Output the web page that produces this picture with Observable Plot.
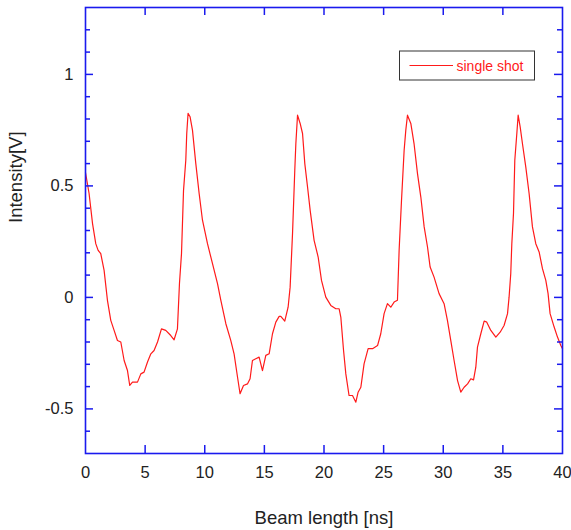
<!DOCTYPE html>
<html>
<head>
<meta charset="utf-8">
<script src="https://cdn.jsdelivr.net/npm/d3@7"></script>
<script src="https://cdn.jsdelivr.net/npm/@observablehq/plot@0.6"></script>
<style>
  html, body { margin: 0; padding: 0; background: white; }
  #chart svg { display: block; }
</style>
</head>
<body>
<div id="chart"></div>
<script>
// ---- data ----
const beamLength = [0,0.3,0.59,0.86,1.06,1.28,1.56,1.84,2.12,2.40,2.68,2.96,3.24,3.52,3.71,3.94,4.36,4.64,4.91,5.20,5.48,5.75,6.04,6.37,6.73,7.15,7.43,7.71,7.88,8.05,8.22,8.41,8.49,8.60,8.77,8.97,9.25,9.53,9.81,10.23,10.65,11.07,11.35,11.77,12.18,12.46,12.75,12.96,13.25,13.58,13.80,14.00,14.28,14.56,14.84,15.12,15.40,15.68,15.96,16.24,16.38,16.71,16.99,17.16,17.36,17.55,17.64,17.78,18.00,18.20,18.39,18.62,18.84,19.17,19.51,19.79,20.15,20.57,20.99,21.27,21.41,21.64,21.83,22.10,22.39,22.67,22.86,23.09,23.36,23.70,24.07,24.49,24.76,25.04,25.32,25.60,25.88,26.16,26.30,26.50,26.72,26.86,27.00,27.28,27.55,27.84,28.12,28.40,28.68,28.90,29.23,29.65,30.07,30.35,30.63,30.91,31.20,31.47,31.75,32.04,32.31,32.54,32.73,32.87,33.15,33.43,33.65,33.99,34.41,34.77,35.10,35.39,35.52,35.66,35.75,35.89,36.00,36.17,36.28,36.45,36.64,36.92,37.20,37.48,37.76,38.04,38.32,38.60,38.79,38.96,39.30,39.58,39.86,40.00];
const intensity = [0.56,0.466,0.331,0.241,0.211,0.196,0.121,-0.013,-0.103,-0.148,-0.193,-0.200,-0.283,-0.328,-0.395,-0.38,-0.38,-0.343,-0.335,-0.29,-0.253,-0.238,-0.20,-0.141,-0.148,-0.171,-0.19,-0.141,0.062,0.196,0.48,0.615,0.735,0.825,0.81,0.75,0.60,0.466,0.346,0.241,0.151,0.062,-0.013,-0.118,-0.193,-0.253,-0.358,-0.432,-0.395,-0.388,-0.365,-0.283,-0.275,-0.268,-0.328,-0.26,-0.253,-0.163,-0.111,-0.085,-0.085,-0.106,-0.044,0.046,0.286,0.57,0.69,0.817,0.78,0.735,0.60,0.495,0.39,0.256,0.181,0.076,0.001,-0.036,-0.051,-0.051,-0.088,-0.238,-0.343,-0.44,-0.44,-0.47,-0.425,-0.403,-0.298,-0.23,-0.23,-0.216,-0.163,-0.073,-0.028,-0.044,-0.021,-0.013,0.211,0.436,0.66,0.75,0.817,0.78,0.69,0.555,0.45,0.316,0.226,0.136,0.091,0.017,-0.028,-0.103,-0.193,-0.283,-0.373,-0.425,-0.403,-0.388,-0.365,-0.37,-0.313,-0.223,-0.163,-0.106,-0.111,-0.148,-0.178,-0.156,-0.126,-0.073,0.001,0.106,0.241,0.376,0.615,0.735,0.817,0.765,0.69,0.585,0.466,0.316,0.241,0.204,0.129,0.076,0.017,-0.073,-0.133,-0.178,-0.216,-0.23];
const xDomain = [0, 40];
const yDomain = [-0.7, 1.3];
const xTickValues = [0, 5, 10, 15, 20, 25, 30, 35, 40];
const xInnerTicks = [5, 10, 15, 20, 25, 30, 35];
const yTickValues = [-0.5, 0, 0.5, 1];
const yMinorTicks = [-0.6, -0.4, -0.3, -0.2, -0.1, 0.1, 0.2, 0.3, 0.4, 0.6, 0.7, 0.8, 0.9, 1.1, 1.2];
const xTitle = "Beam length [ns]";
const yTitle = "Intensity[V]";
const seriesName = "single shot";

// ---- layout ----
const W = 571, H = 530;
const mL = 85, mR = 9, mT = 7, mB = 77;
const fw = W - mL - mR, fh = H - mT - mB;
const AXIS = "#1a1aee";
const LINE = "#ff1a1a";
const majorLen = 8, minorLen = 5;

const data = beamLength.map((x, i) => ({x, y: intensity[i]}));

const plot = Plot.plot({
  width: W, height: H,
  marginLeft: mL, marginRight: mR, marginTop: mT, marginBottom: mB,
  style: {fontFamily: "'Liberation Sans', Arial, sans-serif", background: "white"},
  x: {domain: xDomain},
  y: {domain: yDomain},
  marks: [
    Plot.line(data, {x: "x", y: "y", stroke: LINE, strokeWidth: 1.2}),
    // inward ticks: bottom & top
    Plot.tickX(xInnerTicks, {x: d => d, insetTop: fh - majorLen, stroke: AXIS, strokeWidth: 1.5}),
    Plot.tickX(xInnerTicks, {x: d => d, insetBottom: fh - majorLen, stroke: AXIS, strokeWidth: 1.5}),
    // inward ticks: left & right, major and minor
    Plot.tickY(yTickValues, {y: d => d, insetRight: fw - majorLen, stroke: AXIS, strokeWidth: 1.5}),
    Plot.tickY(yTickValues, {y: d => d, insetLeft: fw - majorLen, stroke: AXIS, strokeWidth: 1.5}),
    Plot.tickY(yMinorTicks, {y: d => d, insetRight: fw - minorLen, stroke: AXIS, strokeWidth: 1.5}),
    Plot.tickY(yMinorTicks, {y: d => d, insetLeft: fw - minorLen, stroke: AXIS, strokeWidth: 1.5}),
    Plot.frame({stroke: AXIS, strokeWidth: 1.6}),
    Plot.axisX(xTickValues, {tickSize: 0, tickPadding: 13, fontSize: 16.5, fill: "#222", tickFormat: d => String(d), label: null}),
    Plot.axisY(yTickValues, {tickSize: 0, tickPadding: 12, fontSize: 16.5, fill: "#222", tickFormat: d => String(d), label: null}),
    Plot.text([xTitle], {text: d => d, frameAnchor: "bottom", dy: 70, fontSize: 18.5, fill: "#222"}),
    Plot.text([yTitle], {text: d => d, frameAnchor: "left", rotate: -90, dx: -69.5, dy: -7.5, fontSize: 18.5, fill: "#222"})
  ]
});

// legend (inside the frame, top-right)
const svg = d3.select(plot);
const lg = svg.append("g").attr("transform", `translate(${mL + fw - 162.5},${mT + 44})`);
lg.append("rect").attr("x", 0).attr("y", 0).attr("width", 135).attr("height", 29)
  .attr("fill", "white").attr("stroke", "#333").attr("stroke-width", 1);
lg.append("line").attr("x1", 10).attr("x2", 53.5).attr("y1", 14.5).attr("y2", 14.5)
  .attr("stroke", LINE).attr("stroke-width", 1.2);
lg.append("text").attr("x", 57).attr("y", 19.5).attr("fill", LINE)
  .attr("text-anchor", "start")
  .attr("font-size", 14).attr("font-family", "'Liberation Sans', Arial, sans-serif")
  .text(seriesName);

document.getElementById("chart").appendChild(plot);
</script>
</body>
</html>
